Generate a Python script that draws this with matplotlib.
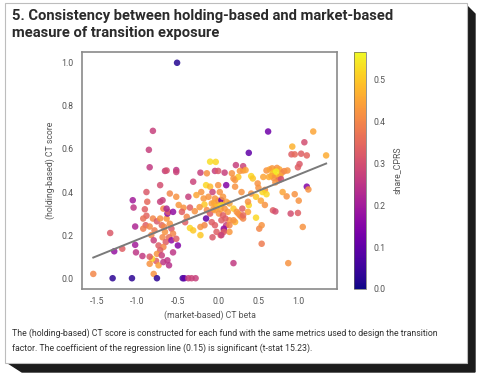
import numpy as np
import matplotlib
matplotlib.use("Agg")
import matplotlib.pyplot as plt
from matplotlib.patches import Polygon, Rectangle

plt.rcParams['axes.unicode_minus'] = False
cond = ['Roboto', 'DejaVu Sans']

# market-based CT beta, holding-based CT score, share_CPRS
pts = [
    # left tail
    (-1.55, 0.02, 0.40), (-1.34, 0.21, 0.32), (-1.31, 0.00, 0.03), (-1.29, 0.125, 0.18),
    (-1.19, 0.137, 0.33), (-1.07, 0.00, 0.03), (-1.06, 0.362, 0.20), (-1.05, 0.328, 0.25),
    (-1.03, 0.155, 0.20), (-1.02, 0.12, 0.25), (-1.03, 0.24, 0.22),
    # -1.0 .. -0.5
    (-0.89, 0.40, 0.32), (-0.88, 0.355, 0.35), (-0.91, 0.32, 0.33), (-0.89, 0.29, 0.34),
    (-0.93, 0.277, 0.36), (-0.90, 0.246, 0.33), (-0.93, 0.23, 0.38), (-0.85, 0.24, 0.40),
    (-0.81, 0.277, 0.40), (-0.76, 0.264, 0.32), (-0.72, 0.277, 0.42), (-0.70, 0.246, 0.35),
    (-0.79, 0.222, 0.38), (-0.83, 0.20, 0.40), (-0.80, 0.176, 0.27), (-0.74, 0.152, 0.33),
    (-0.69, 0.19, 0.40), (-0.66, 0.215, 0.42), (-0.64, 0.277, 0.43), (-0.63, 0.30, 0.17),
    (-0.60, 0.253, 0.42), (-0.58, 0.23, 0.32), (-0.56, 0.207, 0.40), (-0.61, 0.19, 0.36),
    (-0.65, 0.168, 0.33), (-0.68, 0.145, 0.40), (-0.72, 0.13, 0.33), (-0.76, 0.113, 0.42),
    (-0.70, 0.106, 0.27), (-0.77, 0.08, 0.33), (-0.82, 0.09, 0.52), (-0.85, 0.067, 0.42),
    (-0.74, 0.06, 0.44), (-0.68, 0.075, 0.25), (-0.63, 0.083, 0.25), (-0.61, 0.06, 0.24),
    (-0.56, 0.12, 0.25), (-0.50, 0.152, 0.15), (-0.80, 0.02, 0.42), (-0.94, 0.103, 0.26),
    (-0.85, 0.10, 0.32), (-0.58, 0.176, 0.17), (-0.52, 0.183, 0.33), (-0.67, 0.238, 0.40),
    (-0.62, 0.308, 0.33), (-0.68, 0.323, 0.40), (-0.72, 0.355, 0.27), (-0.60, 0.393, 0.40),
    (-0.52, 0.378, 0.42), (-0.49, 0.34, 0.43), (-0.43, 0.327, 0.42), (-0.45, 0.308, 0.33),
    (-0.56, 0.308, 0.17), (-0.69, 0.362, 0.27), (-0.64, 0.323, 0.22), (-0.72, 0.432, 0.30),
    (-0.66, 0.498, 0.27), (-0.64, 0.50, 0.30), (-0.52, 0.502, 0.25), (-0.52, 0.493, 0.28),
    (-0.85, 0.515, 0.26), (-0.86, 0.596, 0.27), (-0.81, 0.684, 0.27), (-0.51, 1.00, 0.02),
    # zero line
    (-0.76, 0.00, 0.03), (-0.44, 0.00, 0.05), (-0.42, 0.00, 0.10), (-0.37, 0.00, 0.27),
    (-0.33, 0.00, 0.28), (-0.28, 0.00, 0.27),
    # -0.5 .. 0
    (-0.37, 0.378, 0.27), (-0.35, 0.328, 0.33), (-0.31, 0.448, 0.28), (-0.22, 0.49, 0.27),
    (-0.14, 0.487, 0.42), (-0.10, 0.541, 0.53), (-0.04, 0.498, 0.27), (-0.15, 0.432, 0.52),
    (-0.10, 0.425, 0.48), (-0.21, 0.40, 0.42), (-0.27, 0.386, 0.45), (-0.18, 0.37, 0.43),
    (-0.12, 0.378, 0.42), (-0.07, 0.40, 0.28), (-0.04, 0.37, 0.42), (-0.08, 0.347, 0.44),
    (-0.17, 0.342, 0.50), (-0.23, 0.33, 0.43), (-0.29, 0.311, 0.42), (-0.14, 0.316, 0.40),
    (-0.10, 0.30, 0.33), (-0.04, 0.316, 0.44), (-0.01, 0.339, 0.52), (-0.15, 0.277, 0.10),
    (-0.08, 0.26, 0.33), (-0.04, 0.246, 0.33), (-0.17, 0.246, 0.40), (-0.22, 0.238, 0.42),
    (-0.35, 0.233, 0.52), (-0.31, 0.222, 0.50), (-0.22, 0.20, 0.50), (-0.07, 0.19, 0.32),
    (-0.02, 0.215, 0.33), (0.03, 0.20, 0.35), (-0.39, 0.285, 0.40), (-0.41, 0.26, 0.33),
    (-0.05, 0.35, 0.45), (-0.02, 0.33, 0.48), (0.00, 0.36, 0.43), (0.03, 0.32, 0.44),
    (0.01, 0.30, 0.42), (-0.06, 0.32, 0.43), (0.05, 0.35, 0.50), (-0.03, 0.54, 0.52),
    # 0 .. 0.5
    (0.00, 0.498, 0.32), (0.08, 0.49, 0.27), (0.17, 0.487, 0.42), (0.21, 0.456, 0.43),
    (0.25, 0.47, 0.50), (0.31, 0.50, 0.42), (0.38, 0.582, 0.10), (0.22, 0.525, 0.27),
    (0.31, 0.52, 0.28), (0.02, 0.40, 0.42), (0.04, 0.362, 0.12), (0.00, 0.432, 0.42),
    (0.06, 0.378, 0.43), (0.10, 0.355, 0.44), (0.04, 0.34, 0.52), (0.08, 0.323, 0.42),
    (0.14, 0.347, 0.45), (0.12, 0.308, 0.43), (0.19, 0.323, 0.50), (0.23, 0.308, 0.42),
    (0.27, 0.292, 0.42), (0.31, 0.277, 0.40), (0.37, 0.308, 0.45), (0.06, 0.292, 0.33),
    (0.04, 0.269, 0.33), (0.10, 0.246, 0.27), (0.14, 0.269, 0.42), (0.21, 0.261, 0.47),
    (0.07, 0.222, 0.33), (0.14, 0.215, 0.43), (0.19, 0.463, 0.42), (0.21, 0.425, 0.42),
    (0.10, 0.432, 0.15), (0.29, 0.40, 0.42), (0.27, 0.498, 0.43), (0.34, 0.502, 0.45),
    (0.41, 0.474, 0.52), (0.43, 0.463, 0.50), (0.41, 0.393, 0.42), (0.47, 0.378, 0.50),
    (0.38, 0.339, 0.52), (0.37, 0.355, 0.42), (0.30, 0.323, 0.33), (0.25, 0.30, 0.42),
    (0.29, 0.285, 0.40), (0.31, 0.292, 0.35), (0.19, 0.269, 0.42), (0.09, 0.277, 0.33),
    (0.14, 0.246, 0.40), (0.07, 0.23, 0.17), (0.07, 0.215, 0.33), (0.04, 0.20, 0.27),
    (0.47, 0.281, 0.52), (0.51, 0.23, 0.40), (0.54, 0.246, 0.42), (0.54, 0.16, 0.38),
    (0.19, 0.07, 0.26),
    # 0.5 .. 1.35
    (0.60, 0.50, 0.42), (0.64, 0.505, 0.45), (0.67, 0.51, 0.43), (0.70, 0.50, 0.47),
    (0.73, 0.512, 0.42), (0.76, 0.505, 0.45), (0.79, 0.49, 0.42), (0.82, 0.497, 0.40),
    (0.68, 0.487, 0.50), (0.71, 0.478, 0.48), (0.74, 0.47, 0.50), (0.77, 0.475, 0.45),
    (0.72, 0.495, 0.55), (0.66, 0.475, 0.45), (0.69, 0.465, 0.42), (0.75, 0.455, 0.36),
    (0.78, 0.46, 0.30), (0.71, 0.445, 0.42), (0.63, 0.47, 0.46), (0.62, 0.681, 0.12),
    (1.18, 0.681, 0.45), (0.92, 0.611, 0.47), (1.07, 0.631, 0.30), (0.91, 0.575, 0.33),
    (0.95, 0.575, 0.35), (1.03, 0.578, 0.33), (1.10, 0.57, 0.34), (1.34, 0.57, 0.46),
    (1.01, 0.53, 0.32), (0.99, 0.515, 0.33), (0.86, 0.50, 0.42), (1.10, 0.425, 0.15),
    (1.12, 0.412, 0.42), (0.95, 0.39, 0.42), (1.00, 0.36, 0.42), (0.90, 0.30, 0.30),
    (0.99, 0.303, 0.33), (1.05, 0.238, 0.42), (0.68, 0.315, 0.33), (0.71, 0.31, 0.30),
    (0.87, 0.07, 0.42), (0.58, 0.41, 0.42), (0.55, 0.40, 0.52), (0.60, 0.39, 0.52),
    (0.50, 0.42, 0.42), (0.53, 0.36, 0.45), (0.58, 0.34, 0.42), (0.85, 0.38, 0.42),
    (0.80, 0.40, 0.45), (0.49, 0.44, 0.42), (0.56, 0.47, 0.45),
]
ct_beta = [p[0] for p in pts]
ct_score = [p[1] for p in pts]
share_cprs = [p[2] for p in pts]

# regression line (coefficient 0.15)
coef = 0.151
intercept = 0.33

title = "5. Consistency between holding-based and market-based\nmeasure of transition exposure"
caption = ("The (holding-based) CT score is constructed for each fund with the same metrics used to design the transition\n"
           "factor. The coefficient of the regression line (0.15) is significant (t-stat 15.23).")

fig = plt.figure(figsize=(4.8, 3.77), dpi=100)

# card with black drop shadow
bg = fig.add_axes([0, 0, 1, 1], zorder=-1)
bg.set_xlim(0, 480)
bg.set_ylim(377, 0)
bg.axis('off')
bg.add_patch(Polygon([(467, 6), (475, 14), (475, 372), (22, 372), (8, 363), (467, 363)],
                     closed=True, color='#1c1c1c'))
bg.add_patch(Rectangle((5, 3), 462, 360, facecolor='white', edgecolor='#bdbdbd', lw=0.8))

fig.text(12 / 480, 1 - 9 / 377, title, ha='left', va='top', fontsize=10.6,
         fontweight='bold', color='#2b2b2b', family=cond, linespacing=1.25)
fig.text(12 / 480, 1 - 328 / 377, caption, ha='left', va='top', fontsize=6.35,
         color='#333333', family=cond, linespacing=1.75)

ax = fig.add_axes([82 / 480, 1 - 289 / 377, 255 / 480, 237 / 377])
sc = ax.scatter(ct_beta, ct_score, c=share_cprs, cmap='plasma', vmin=0, vmax=0.565,
                s=22, alpha=0.85, linewidths=0)
xs = np.array([min(ct_beta), max(ct_beta)])
ax.plot(xs, intercept + coef * xs, color='#7a7a7a', lw=1.4)

ax.set_xlim(-1.69, 1.475)
ax.set_ylim(-0.05, 1.05)
ax.set_xticks([-1.5, -1.0, -0.5, 0.0, 0.5, 1.0])
ax.set_yticks([0.0, 0.2, 0.4, 0.6, 0.8, 1.0])
ax.tick_params(length=0, labelsize=6.3, labelcolor='#555555', pad=6)
for lab in ax.get_xticklabels() + ax.get_yticklabels():
    lab.set_family(cond)
for s in ax.spines.values():
    s.set_color('#8a8a8a')
    s.set_linewidth(1.2)
ax.set_xlabel('(market-based) CT beta', fontsize=6.3, color='#555555', family=cond, labelpad=3)
ax.set_ylabel('(holding-based) CT score', fontsize=6.3, color='#555555', family=cond, labelpad=5)

cax = fig.add_axes([354 / 480, 1 - 289 / 377, 11.5 / 480, 237 / 377])
cb = fig.colorbar(sc, cax=cax)
cb.solids.set_alpha(1)
cb.set_ticks([0.0, 0.1, 0.2, 0.3, 0.4, 0.5])
cb.ax.tick_params(length=0, labelsize=6.3, labelcolor='#555555', pad=6)
for lab in cb.ax.get_yticklabels():
    lab.set_family(cond)
cb.outline.set_linewidth(0.5)
cb.outline.set_edgecolor('#666666')
cb.set_label('share_CPRS', fontsize=6.3, color='#555555', family=cond, labelpad=5)

fig.savefig('out.png', dpi=100)
